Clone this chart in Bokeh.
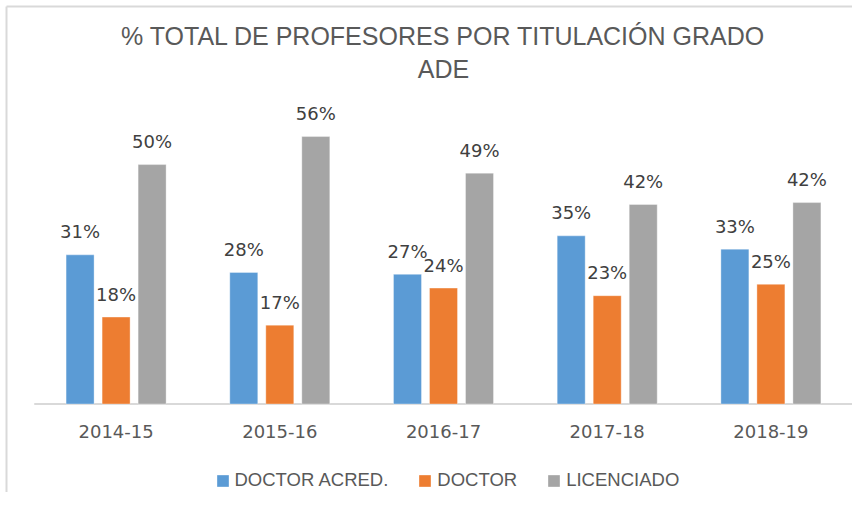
from bokeh.plotting import figure
from bokeh.models import (ColumnDataSource, Range1d, Legend, LegendItem, Label,
                          FixedTicker)
from bokeh.transform import dodge
from bokeh.core.properties import value
from bokeh.embed import file_html
from bokeh.resources import INLINE

# ---- data ----
years = ["2014-15", "2015-16", "2016-17", "2017-18", "2018-19"]
doctor_acred = [31.4, 27.7, 27.3, 35.4, 32.6]
doctor = [18.3, 16.6, 24.4, 22.8, 25.2]
licenciado = [50.4, 56.3, 48.6, 42.0, 42.4]
series_names = ["DOCTOR ACRED.", "DOCTOR", "LICENCIADO"]
colors = ["#5B9BD5", "#ED7D31", "#A5A5A5"]
title_lines = ["% TOTAL DE PROFESORES POR TITULACIÓN GRADO", "ADE"]

# ---- layout constants (pixels) ----
W, H = 852, 492
CAT_PX = 163.7          # width of one category
CENTER_PX = 443.0       # pixel x of the middle category
BASE_PX = 403.5         # pixel y of the zero line
UNIT_PX = 4.75          # pixels per percent point
mid = (len(years) - 1) / 2


def xd(px):
    return (px - CENTER_PX) / CAT_PX + mid


def yd(py):
    return (BASE_PX - py) / UNIT_PX


series = [doctor_acred, doctor, licenciado]
data = {"x": list(range(len(years))), "year": years}
for i, s in enumerate(series):
    data[f"v{i}"] = s
    data[f"l{i}"] = [f"{round(v)}%" for v in s]
src = ColumnDataSource(data)

p = figure(x_range=Range1d(xd(0), xd(W)), y_range=Range1d(yd(H), yd(0)),
           width=W, height=H, output_backend="svg", toolbar_location=None,
           min_border_left=0, min_border_right=0, min_border_top=0, min_border_bottom=0)
p.outline_line_color = None
p.xgrid.visible = False
p.ygrid.visible = False
p.yaxis.visible = False

# chart frame (light border, left and top)
p.segment(x0=[xd(6), xd(6)], y0=[yd(6), yd(6)], x1=[xd(6), xd(W + 10)], y1=[yd(H + 10), yd(6)],
          line_color="#D9D9D9", line_width=2)

# baseline
p.segment(x0=[-0.5], y0=[0], x1=[len(years) - 0.5], y1=[0], line_color="#D9D9D9", line_width=2)

ax = p.xaxis[0]
ax.fixed_location = 0
ax.ticker = FixedTicker(ticks=list(range(len(years))))
ax.major_label_overrides = {i: y for i, y in enumerate(years)}
ax.axis_line_color = None
ax.major_tick_line_color = None
ax.minor_tick_line_color = None
ax.major_tick_out = 0
ax.major_tick_in = 0
ax.minor_tick_out = 0
ax.minor_tick_in = 0
ax.major_label_text_font = "DejaVu Sans"
ax.major_label_text_font_size = "18px"
ax.major_label_text_color = "#595959"
ax.major_label_standoff = 21

offsets = [-0.22, 0.0, 0.22]
renderers = []
for i in range(3):
    r = p.vbar(x=dodge("x", offsets[i]), top=f"v{i}", width=0.171,
               source=src, fill_color=colors[i], line_color="white", line_alpha=0.35,
               line_width=1)
    renderers.append(r)
    p.text(x=dodge("x", offsets[i]), y=f"v{i}", text=f"l{i}",
           source=src, text_font=value("DejaVu Sans"), text_font_size=value("18px"),
           text_color="#404040", text_align="center", text_baseline="alphabetic",
           y_offset=-23)

legend = Legend(items=[LegendItem(label=series_names[i], renderers=[renderers[i]]) for i in range(3)],
                orientation="horizontal", location=(214.5, 1),
                padding=0, margin=0, spacing=29, label_standoff=5,
                glyph_width=15, glyph_height=15,
                label_text_font="Liberation Sans", label_text_font_size="18.5px",
                label_text_color="#595959", border_line_color=None,
                background_fill_alpha=0)
p.add_layout(legend, "center")

p.add_layout(Label(x=mid, y=77.5, text=title_lines[0], text_align="center",
                   text_baseline="alphabetic", text_font="Liberation Sans",
                   text_font_size="25px", text_color="#595959"))
p.add_layout(Label(x=mid, y=70.5, text=title_lines[1], text_align="center",
                   text_baseline="alphabetic", text_font="Liberation Sans",
                   text_font_size="25px", text_color="#595959"))

open("out.html", "w").write(file_html(p, INLINE))
